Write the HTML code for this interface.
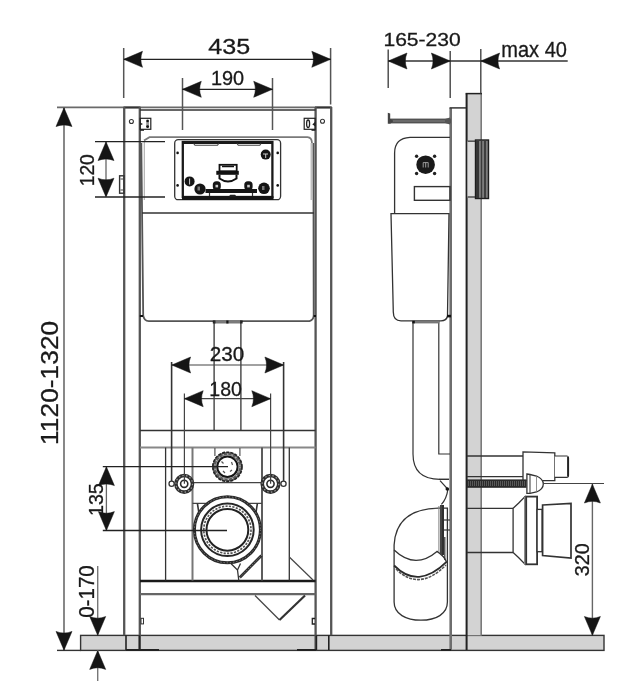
<!DOCTYPE html>
<html><head><meta charset="utf-8"><style>
html,body{margin:0;padding:0;background:#fff;width:640px;height:700px;overflow:hidden}
svg{position:absolute;left:0;top:0;filter:grayscale(100%)}
text{font-family:"Liberation Sans",sans-serif;fill:#1a1a1a;stroke:#1a1a1a;stroke-width:0.3}
</style></head><body>
<svg width="640" height="700" viewBox="0 0 640 700">
<defs>
<path id="ah" d="M0,0 L-18.8,-8 Q-15.5,0 -18.8,8 Z" fill="#151515" stroke="#151515" stroke-width="0.5" stroke-linejoin="round"/>
</defs>
<rect width="640" height="700" fill="#fff"/>

<!-- ============ LEFT VIEW ============ -->
<!-- floor -->
<rect x="80.6" y="635.4" width="523.4" height="15" fill="#d2d3d6" stroke="#333" stroke-width="1.4"/>
<line x1="57" y1="650.4" x2="81" y2="650.4" stroke="#333" stroke-width="1.4"/>

<!-- top reference line -->
<line x1="57" y1="107.3" x2="331" y2="107.3" stroke="#6a6a6a" stroke-width="1.8"/><line x1="123.5" y1="107.5" x2="140.5" y2="107.5" stroke="#333" stroke-width="2"/><line x1="315" y1="107.5" x2="332" y2="107.5" stroke="#333" stroke-width="2"/>

<!-- posts -->
<g stroke="#555" stroke-width="2.3" fill="none">
<line x1="124.2" y1="107" x2="124.2" y2="635.3"/>
<line x1="139.8" y1="107" x2="139.8" y2="650"/>
<line x1="315.6" y1="107" x2="315.6" y2="650"/>
<line x1="331.2" y1="107" x2="331.2" y2="635.3"/>
</g>
<g stroke="#222" stroke-width="1.6">
<line x1="126" y1="635.3" x2="126" y2="650"/>
<line x1="139.4" y1="635.3" x2="139.4" y2="650"/>
<line x1="316.4" y1="635.3" x2="316.4" y2="650"/>
<line x1="328.8" y1="635.3" x2="328.8" y2="650"/>
<line x1="126" y1="650" x2="159" y2="650" stroke-width="2"/>
<line x1="297" y1="650" x2="316" y2="650" stroke-width="2"/>
</g>
<!-- inner top line -->
<line x1="140" y1="110" x2="315.6" y2="110" stroke="#333" stroke-width="1.3"/>
<!-- holes -->
<circle cx="131.4" cy="121.5" r="2" fill="none" stroke="#333" stroke-width="1.1"/>
<circle cx="322.5" cy="121.3" r="2" fill="none" stroke="#333" stroke-width="1.1"/>
<!-- brackets -->
<rect x="140.2" y="118.3" width="10.6" height="11" fill="none" stroke="#222" stroke-width="1.2"/>
<rect x="146.2" y="119.6" width="2.8" height="8.6" rx="1.3" fill="#999"/>
<circle cx="147.6" cy="121" r="1.3" fill="#111"/><circle cx="147.6" cy="126.6" r="1.4" fill="#111"/>
<path d="M140,122.5 L143,124 L140,125.5 Z" fill="#222"/>
<rect x="140" y="129.3" width="4" height="1.5" fill="#222"/>
<rect x="304.2" y="118.3" width="11" height="11" fill="none" stroke="#222" stroke-width="1.2"/>
<ellipse cx="308.1" cy="123.8" rx="1.5" ry="3.8" fill="none" stroke="#222" stroke-width="1.3"/>
<path d="M315.5,121.5 L312.3,124.5 L315.5,126.5 Z" fill="#222"/>
<rect x="311.5" y="129.3" width="4" height="1.5" fill="#222"/>
<!-- tab -->
<rect x="119.6" y="175.8" width="4.4" height="17.4" fill="none" stroke="#333" stroke-width="1.4"/><path d="M120.5,179 L123.5,179 M120.5,190 L123.5,190" stroke="#444" stroke-width="1.1"/>

<!-- tank -->
<path d="M144,140.5 L149.5,137.2 L307.5,137.2 Q311.7,137.5 312,143" fill="none" stroke="#7a7a7a" stroke-width="1.8"/>
<line x1="144.3" y1="141" x2="144.3" y2="200" stroke="#aaa" stroke-width="1.1"/>
<line x1="311.2" y1="143" x2="311.2" y2="200" stroke="#aaa" stroke-width="1.1"/>
<path d="M141.3,143 L143.2,315.3 Q144,321 148.8,321.1 L309.5,321.1 Q313.7,320 313.7,315.3 L313.4,143" fill="none" stroke="#555" stroke-width="1.8"/>
<line x1="142" y1="213" x2="314" y2="213" stroke="#333" stroke-width="1.3"/>
<path d="M139.8,316 L143,316" stroke="#111" stroke-width="2"/>
<path d="M313.7,316 L316,316" stroke="#111" stroke-width="2"/>
<!-- pipe under tank -->
<rect x="214" y="320.5" width="27" height="3" fill="#7a7a7a"/><rect x="212.8" y="320.5" width="2.6" height="3" fill="#151515"/><rect x="226.3" y="320.5" width="2.2" height="3" fill="#151515"/><rect x="240" y="320.5" width="2.6" height="3" fill="#151515"/>
<line x1="214.1" y1="321" x2="214.1" y2="430.5" stroke="#333" stroke-width="1.3"/>
<line x1="240.9" y1="321" x2="240.9" y2="430.5" stroke="#333" stroke-width="1.3"/>

<!-- flush plate -->
<rect x="174.7" y="139.7" width="105.9" height="60" rx="3.5" fill="#fff" stroke="#333" stroke-width="1.3"/>
<rect x="182.8" y="142" width="89.6" height="55" fill="none" stroke="#1a1a1a" stroke-width="2.3"/>
<rect x="182" y="196.2" width="91.5" height="3.8" fill="#151515"/>
<line x1="182" y1="142.5" x2="273" y2="142.5" stroke="#1a1a1a" stroke-width="3"/>
<path d="M193.6,143.5 L195,145.3 L217.5,145.3 L218.7,143.5 M237,143.5 L238.3,145.3 L259.8,145.3 L261,143.5" fill="none" stroke="#444" stroke-width="1.1"/>
<circle cx="177.6" cy="152.9" r="1.3" fill="#111"/><circle cx="177.6" cy="185.4" r="1.3" fill="#111"/>
<circle cx="277.7" cy="152.9" r="1.3" fill="#111"/><circle cx="277.7" cy="185.4" r="1.3" fill="#111"/>
<circle cx="189.6" cy="181.4" r="5" fill="#151515"/>
<path d="M189.6,178.5 L189.6,184.5" stroke="#ccc" stroke-width="1"/>
<circle cx="265.7" cy="154.6" r="5" fill="#151515"/>
<path d="M263,154 L268,154 M265.7,154 L265.7,158" stroke="#ccc" stroke-width="1"/>
<circle cx="200" cy="189" r="5.6" fill="#151515"/>
<rect x="197.5" y="186.5" width="2.5" height="4" fill="#777"/>
<circle cx="264" cy="188.3" r="5.8" fill="#151515"/>
<rect x="262" y="186" width="2.5" height="4" fill="#777"/>
<rect x="212.8" y="181.2" width="8" height="9" rx="3.5" fill="#151515"/>
<rect x="215.5" y="184.8" width="2.6" height="2.6" fill="#ccc"/>
<rect x="244.3" y="181.2" width="8.3" height="9" rx="3.5" fill="#151515"/>
<rect x="247.2" y="184.8" width="2.6" height="2.6" fill="#ccc"/>
<rect x="205.5" y="189" width="51.5" height="4" fill="#151515"/>
<path d="M209.5,193 L209.5,196 M252.5,193 L252.5,196" stroke="#333" stroke-width="1.2"/>
<rect x="229.5" y="194.8" width="6.3" height="2" rx="1" fill="#222"/>
<!-- mechanism -->
<rect x="219.5" y="164.8" width="17.2" height="6.5" fill="none" stroke="#111" stroke-width="1.8"/>
<rect x="216.3" y="170.8" width="22.5" height="4" fill="#111"/>
<path d="M219.5,174.7 L219.5,178.5 Q228,184.5 236.5,178.5 L236.5,174.7" fill="none" stroke="#111" stroke-width="2"/>
<line x1="222" y1="166.5" x2="234" y2="166.5" stroke="#111" stroke-width="1.5"/>

<!-- crossbars -->
<g stroke="#333" stroke-width="1.5">
<line x1="140" y1="430.5" x2="315.6" y2="430.5"/>
<line x1="140" y1="447.4" x2="315.6" y2="447.4" stroke="#888" stroke-width="2"/>
<line x1="140" y1="581" x2="315.6" y2="581" stroke-width="2.3" stroke="#1a1a1a"/>
<line x1="140" y1="594.1" x2="315.6" y2="594.1" stroke="#666" stroke-width="2.2"/>
</g>
<line x1="165.6" y1="447.5" x2="165.6" y2="580.5" stroke="#333" stroke-width="1.3"/>
<line x1="192.5" y1="447.5" x2="192.5" y2="580.5" stroke="#777" stroke-width="2"/>
<line x1="262" y1="447.5" x2="262" y2="580.5" stroke="#555" stroke-width="1.9"/>
<line x1="289.3" y1="447.5" x2="289.3" y2="580.5" stroke="#333" stroke-width="1.3"/>
<line x1="192.5" y1="482.7" x2="262" y2="482.7" stroke="#444" stroke-width="1.2"/>
<line x1="192.5" y1="503.4" x2="262" y2="503.4" stroke="#444" stroke-width="1.2"/>
<!-- diagonals -->
<path d="M289.3,557 L313,580" stroke="#444" stroke-width="1.2" fill="none"/>
<path d="M230.9,563.5 L237.5,570 L238.8,580.5 M237.5,570 L240.5,563.5" stroke="#333" stroke-width="1.3" fill="none"/><path d="M239.8,577.5 L261.5,555.5" stroke="#2e2e2e" stroke-width="2.8" fill="none"/><path d="M239.8,577.5 L261.5,555.5" stroke="#999" stroke-width="1" fill="none" stroke-dasharray="1 2"/>
<path d="M255,595.5 L279.5,620" stroke="#444" stroke-width="1.3" fill="none"/><path d="M279.5,620 L305,595.5" stroke="#333" stroke-width="2.2" fill="none"/>
<rect x="141" y="618.3" width="2.5" height="5.6" fill="none" stroke="#333" stroke-width="1"/>
<path d="M315,618.5 L312.3,618.5 L312.3,624 L315,624" fill="none" stroke="#222" stroke-width="1.3"/>

<!-- inlet ring -->
<line x1="214.9" y1="448" x2="214.9" y2="456" stroke="#555" stroke-width="1.2"/>
<line x1="239.9" y1="448" x2="239.9" y2="456" stroke="#555" stroke-width="1.2"/>
<circle cx="227.4" cy="466.8" r="13.2" fill="#fff" stroke="#5a5a5a" stroke-width="3.4"/>
<circle cx="227.4" cy="466.8" r="14.6" fill="none" stroke="#222" stroke-width="1.6" stroke-dasharray="3 1.2"/>
<circle cx="227.4" cy="466.8" r="12.6" fill="none" stroke="#bbb" stroke-width="1.2" stroke-dasharray="1.5 3"/>
<circle cx="227.4" cy="466.8" r="10.2" fill="none" stroke="#151515" stroke-width="2"/>
<path d="M221.5,461.5 L223.5,463.5 M231.5,462 L232.5,465 M223,471 L225,473 M230,471.5 L232,470" stroke="#555" stroke-width="1.2"/>
<!-- bolt rings -->
<circle cx="184.2" cy="483.8" r="8.3" fill="#fff" stroke="#2e2e2e" stroke-width="3.6"/>
<circle cx="184.2" cy="483.8" r="8.3" fill="none" stroke="#999" stroke-width="1.2" stroke-dasharray="1.5 2.2"/>
<circle cx="184.2" cy="483.8" r="3.6" fill="none" stroke="#2a2a2a" stroke-width="1.6"/>
<circle cx="270.5" cy="483.8" r="8.3" fill="#fff" stroke="#2e2e2e" stroke-width="3.6"/>
<circle cx="270.5" cy="483.8" r="8.3" fill="none" stroke="#999" stroke-width="1.2" stroke-dasharray="1.5 2.2"/>
<circle cx="270.5" cy="483.8" r="3.6" fill="none" stroke="#2a2a2a" stroke-width="1.6"/>
<circle cx="171.6" cy="483.7" r="2.6" fill="#fff" stroke="#333" stroke-width="1.3"/>
<circle cx="283.5" cy="483.7" r="2.6" fill="#fff" stroke="#333" stroke-width="1.3"/>
<!-- drain -->
<path d="M197.4,503.4 L200.5,523 M257.4,503.4 L254.3,523" stroke="#333" stroke-width="1.6" fill="none"/>
<circle cx="227.4" cy="529.8" r="33" fill="#fff" stroke="#2a2a2a" stroke-width="3"/>
<circle cx="227.4" cy="529.8" r="33" fill="none" stroke="#888" stroke-width="1" stroke-dasharray="1.2 2"/>
<circle cx="227.4" cy="529.8" r="26.3" fill="none" stroke="#262626" stroke-width="2"/>
<circle cx="227.4" cy="529.8" r="23.6" fill="none" stroke="#555" stroke-width="1.7" stroke-dasharray="2.2 1.3"/>
<circle cx="227.4" cy="529.8" r="20.9" fill="none" stroke="#222" stroke-width="2"/>
<!-- dimension 435 / 190 -->
<g stroke="#555" stroke-width="1.5">
<line x1="123.7" y1="48" x2="123.7" y2="98"/>
<line x1="330.6" y1="48" x2="330.6" y2="104.5"/>
<line x1="182.5" y1="78" x2="182.5" y2="130"/>
<line x1="272.5" y1="78" x2="272.5" y2="130"/>
</g>
<g stroke="#222" stroke-width="1.2">
<line x1="124" y1="59.3" x2="330.6" y2="59.3"/>
<line x1="182.5" y1="89.3" x2="272.5" y2="89.3"/>
</g>
<use href="#ah" transform="translate(123.7,59.3) rotate(180)"/>
<use href="#ah" transform="translate(330.6,59.3)"/>
<use href="#ah" transform="translate(182.5,89.3) rotate(180)"/>
<use href="#ah" transform="translate(272.5,89.3)"/>

<!-- 230 / 180 -->
<g stroke="#444" stroke-width="1.2">
<line x1="171.6" y1="362" x2="171.6" y2="481" stroke-width="1.6" stroke="#333"/>
<line x1="283.6" y1="362" x2="283.6" y2="481" stroke-width="1.6" stroke="#333"/>
<line x1="184.4" y1="393.5" x2="184.4" y2="483.7"/>
<line x1="270.6" y1="393.5" x2="270.6" y2="483.7"/>
<line x1="171.8" y1="365" x2="283.7" y2="365"/>
<line x1="184.4" y1="398.7" x2="270.6" y2="398.7"/>
</g>
<use href="#ah" transform="translate(171.8,365) rotate(180)"/>
<use href="#ah" transform="translate(283.7,365)"/>
<use href="#ah" transform="translate(184.4,398.7) rotate(180)"/>
<use href="#ah" transform="translate(270.6,398.7)"/>

<!-- 120 -->
<g stroke="#222" stroke-width="1.3">
<line x1="95" y1="141.6" x2="165" y2="141.6"/>
<line x1="95" y1="197" x2="165" y2="197"/>
</g>
<line x1="106" y1="142" x2="106" y2="197" stroke="#666" stroke-width="1.3"/>
<use href="#ah" transform="translate(106,141.8) rotate(-90)"/>
<use href="#ah" transform="translate(106,197) rotate(90)"/>

<!-- 135 -->
<g stroke="#222" stroke-width="1.3">
<line x1="102.8" y1="466.7" x2="228" y2="466.7"/>
<line x1="102.8" y1="530.5" x2="227" y2="530.5"/>
</g>
<line x1="106.4" y1="467" x2="106.4" y2="530" stroke="#666" stroke-width="1.3"/>
<use href="#ah" transform="translate(106.4,466.8) rotate(-90)"/>
<use href="#ah" transform="translate(106.4,530.4) rotate(90)"/>

<!-- 1120-1320 -->
<line x1="64" y1="108" x2="64" y2="650" stroke="#555" stroke-width="1.4"/>
<use href="#ah" transform="translate(64,107.8) rotate(-90)"/>
<use href="#ah" transform="translate(64,650.2) rotate(90)"/>

<!-- 0-170 -->
<line x1="97.7" y1="566" x2="97.7" y2="635" stroke="#777" stroke-width="1.4"/>
<line x1="97.7" y1="650" x2="97.7" y2="681" stroke="#777" stroke-width="1.4"/>
<use href="#ah" transform="translate(97.7,635.3) rotate(90)"/>
<use href="#ah" transform="translate(97.7,650.6) rotate(-90)"/>

<!-- ============ RIGHT VIEW ============ -->
<!-- wall -->
<rect x="466.4" y="93.4" width="14.9" height="542" fill="#d2d3d6"/>
<line x1="466.6" y1="93.4" x2="466.6" y2="650" stroke="#222" stroke-width="2"/>
<line x1="481.2" y1="93.4" x2="481.2" y2="635.5" stroke="#7a7a7a" stroke-width="1.6"/>
<line x1="465.6" y1="93.6" x2="482" y2="93.6" stroke="#222" stroke-width="1.5"/>
<!-- frame column -->
<line x1="450.7" y1="107.9" x2="450.7" y2="650" stroke="#6e6e6e" stroke-width="2.6"/>
<line x1="449.5" y1="107.9" x2="466" y2="107.9" stroke="#333" stroke-width="1.5"/>
<line x1="441" y1="650" x2="451" y2="650" stroke="#222" stroke-width="2"/>

<!-- rod -->
<rect x="390" y="119.1" width="60" height="3.8" fill="#6a6a6a" stroke="#333" stroke-width="0.9"/><path d="M445,119 L450,117.5 L450,124.5 L445,123 Z" fill="#555"/>
<path d="M387.8,112.7 L390.2,113.5 L390.2,119 L393,120.5 L393,121.5 L390.2,123.7 L387.8,123.7 Z" fill="#444"/>

<!-- tank upper -->
<path d="M450,137.3 L410,137.3 Q394.6,138 394.6,153 L394.6,213.6" fill="none" stroke="#333" stroke-width="1.3"/>
<rect x="414.4" y="186.6" width="35.6" height="13.7" fill="none" stroke="#333" stroke-width="1.4"/>
<circle cx="425.6" cy="164.7" r="9.3" fill="#1a1a1a"/>
<path d="M423.2,167.5 L423.2,162.6 L428.2,162.6 L428.2,167.5 M425.7,162.6 L425.7,167.5" fill="none" stroke="#aaa" stroke-width="0.9"/>
<circle cx="416.6" cy="156.3" r="1.7" fill="#222"/><circle cx="434.6" cy="156.3" r="1.7" fill="#222"/>
<circle cx="416.6" cy="173.5" r="1.7" fill="#222"/><circle cx="434.6" cy="173.5" r="1.7" fill="#222"/>
<!-- tank lower -->
<path d="M391,213.6 L449,213.6 L447.5,316 Q446.5,320.8 441,320.8 L401,320.8 Q393.3,320.8 393.3,312 Z" fill="#fff" stroke="#333" stroke-width="1.3"/><rect x="447" y="314.8" width="4" height="2.6" fill="#111"/>
<!-- pipe -->
<path d="M413,321 L413,454 Q413,479.3 440,479.3 L449,479.3" fill="none" stroke="#333" stroke-width="1.2"/>
<path d="M438.8,321 L438.8,454 L450,454" fill="none" stroke="#333" stroke-width="1.2"/>
<rect x="412.3" y="320.8" width="27" height="2.6" fill="#777"/><rect x="412.3" y="320.8" width="2.5" height="2.6" fill="#111"/>
<!-- pinch -->
<path d="M440,480.7 L447.9,489.3 Q446.5,499 441.4,504.3" fill="none" stroke="#333" stroke-width="1.2"/><circle cx="447.3" cy="489" r="1.8" fill="#111"/><line x1="439" y1="479.3" x2="449" y2="479.3" stroke="#333" stroke-width="1.1"/>
<!-- trap -->
<path d="M394.1,545 Q396,509 438.5,508.2 L447.4,508.2 L447.4,602 C447.4,614 436,620.2 421,620.2 C406,620.2 394.1,614 394.1,602 Z" fill="#fff" stroke="#333" stroke-width="1.3"/>
<path d="M394.1,550 Q415,570 437,551.4 Q444,556 446.5,561.7" fill="none" stroke="#333" stroke-width="1.3"/>
<path d="M394.1,565.5 Q418,590 446.8,561.7" fill="none" stroke="#2a2a2a" stroke-width="1.8"/>
<path d="M396,569 Q419,592 446,565" fill="none" stroke="#555" stroke-width="1.6" stroke-dasharray="3 1"/>
<line x1="438.9" y1="506" x2="438.9" y2="552" stroke="#888" stroke-width="1.1"/>
<rect x="440" y="505" width="4" height="50" fill="#444"/><line x1="443" y1="505" x2="443" y2="555" stroke="#222" stroke-width="1.2"/>
<line x1="444.8" y1="537" x2="444.8" y2="560" stroke="#333" stroke-width="1.2"/>
<line x1="444" y1="520" x2="450" y2="520" stroke="#333" stroke-width="1.2"/>
<line x1="444" y1="530" x2="450" y2="530" stroke="#333" stroke-width="1.2"/>

<!-- flush buttons block -->
<rect x="467.5" y="141" width="8" height="56.5" fill="#dcdcdc"/>
<line x1="467.5" y1="141.2" x2="475.5" y2="141.2" stroke="#555" stroke-width="1.6"/>
<line x1="467.5" y1="197" x2="475.5" y2="197" stroke="#555" stroke-width="1.6"/>
<rect x="475.5" y="140" width="13" height="58.5" fill="#7c7c7c" stroke="#1e1e1e" stroke-width="1.4"/>
<rect x="476" y="141" width="3" height="57" fill="#353535"/>
<line x1="481.5" y1="141" x2="481.5" y2="198" stroke="#3a3a3a" stroke-width="1.3"/>
<line x1="485" y1="141" x2="485" y2="198" stroke="#2a2a2a" stroke-width="1.5"/>
<!-- wall penetrations -->
<g stroke="#333" stroke-width="1.3" fill="#fff">
<line x1="467" y1="456" x2="523" y2="456"/>
<line x1="467" y1="476.7" x2="523" y2="476.7"/>
<path d="M523,480.6 L523,451.8 L554.8,452.8 L554.8,480.6 Z"/>
<path d="M554.8,456 L567,456 Q568.5,456 568.5,458 L568.5,475.5 Q568.5,477.3 567,477.3 L554.8,477.3" stroke-width="1.2"/><line x1="568" y1="457" x2="568" y2="476.5" stroke="#222" stroke-width="1.8"/>
<line x1="467" y1="508.3" x2="513.1" y2="508.3"/>
<line x1="467" y1="552.5" x2="513.1" y2="552.5"/>
<path d="M513.1,508.3 L513.1,552.5 L518.5,557.5 L524.8,564 L524.8,496.8 L518.5,503.3 Z"/>
<line x1="524.8" y1="497" x2="524.8" y2="564" stroke="#999"/>
<rect x="526.2" y="496.6" width="10.9" height="67.7" stroke-width="1.8"/>
<rect x="537.1" y="509.4" width="5" height="42.3"/>
<path d="M542.6,505 L571,503.5 L571,558 L542.6,555.5 Z" stroke-width="1.7"/>
</g>
<rect x="467" y="479.4" width="59.6" height="8.4" fill="#2a2a2a"/><line x1="468" y1="483.6" x2="526" y2="483.6" stroke="#666" stroke-width="5" stroke-dasharray="0.8 1.2"/>
<path d="M526.9,474 L530,474.5 L536.5,476 Q543.3,479 543.3,484 Q543.3,489 536.5,492 L530,493.3 L526.9,493.3 Z" fill="#fff" stroke="#333" stroke-width="1.3"/>
<line x1="530" y1="474.5" x2="530" y2="493.3" stroke="#444" stroke-width="1.1"/><line x1="536.5" y1="476" x2="536.5" y2="492" stroke="#777" stroke-width="0.8"/>

<!-- 165-230 / max 40 -->
<g stroke="#444" stroke-width="1.4">
<line x1="388.2" y1="49.4" x2="388.2" y2="88"/>
<line x1="450.2" y1="51" x2="450.2" y2="98"/>
<line x1="480.8" y1="49" x2="480.8" y2="93.4"/>
</g>
<line x1="388.2" y1="61" x2="567.7" y2="61" stroke="#333" stroke-width="1.3"/>
<use href="#ah" transform="translate(388.2,61) rotate(180)"/>
<use href="#ah" transform="translate(450.2,61)"/>
<use href="#ah" transform="translate(480.8,61) rotate(180)"/>

<!-- 320 -->
<line x1="543.3" y1="483.5" x2="604" y2="483.5" stroke="#444" stroke-width="1.2"/>
<line x1="592.4" y1="484" x2="592.4" y2="635" stroke="#666" stroke-width="1.4"/>
<use href="#ah" transform="translate(592.4,484.2) rotate(-90)"/>
<use href="#ah" transform="translate(592.4,635.3) rotate(90)"/>
<g class="t">
<text transform="translate(208.34,53.68) scale(1.117,1)" font-size="22.47">435</text>
<text transform="translate(210.90,84.50) scale(0.979,1)" font-size="20.35">190</text>
<text transform="translate(209.76,360.59) scale(0.999,1)" font-size="20.78">230</text>
<text transform="translate(209.33,395.59) scale(0.947,1)" font-size="20.64">180</text>
<text transform="translate(383.42,45.51) scale(1.139,1)" font-size="18.52">165-230</text>
<text transform="translate(501.25,57.40) scale(0.919,1)" font-size="21.82">max 40</text>
<text transform="translate(93.70,186.35) rotate(-90) scale(0.955,1)" font-size="20.21">120</text>
<text transform="translate(103.00,516.08) rotate(-90) scale(0.989,1)" font-size="19.93">135</text>
<text transform="translate(588.90,576.14) rotate(-90) scale(0.982,1)" font-size="20.07">320</text>
<text transform="translate(58.06,444.88) rotate(-90) scale(1.085,1)" font-size="24.31">1120-1320</text>
<text transform="translate(93.88,617.82) rotate(-90) scale(0.945,1)" font-size="21.77">0-170</text>
</g>
</svg>
</body></html>
